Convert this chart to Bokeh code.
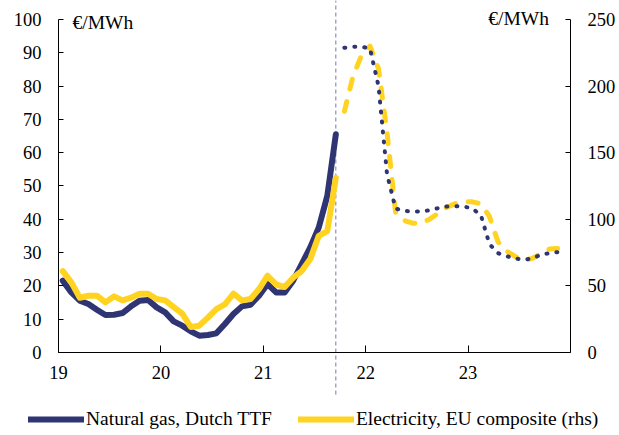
from bokeh.plotting import figure
from bokeh.models import Range1d, LinearAxis, FixedTicker, Legend, LegendItem, Label
from bokeh.embed import file_html
from bokeh.resources import INLINE

# month index 0 = Jan 2019 (plotted at mid-month)
hist_months = list(range(0, 33))   # Jan 2019 .. Sep 2021
gas_hist = [21.5, 18, 15.5, 14.5, 12.8, 11.2, 11.3, 11.8, 13.8, 15.5, 15.7, 13.5,
            12, 9.3, 8, 6.3, 5, 5.2, 5.7, 8.5, 11.5, 13.8, 14.3, 17,
            20.5, 18, 18, 21.5, 26.5, 31.5, 37.5, 47, 65.5]
elec_hist = [61, 52.5, 41, 42.5, 42.5, 37.5, 42, 39, 41, 44, 44, 40,
             39, 34, 29, 19, 20, 26, 32.5, 36, 44, 39, 40, 47.5,
             57.5, 51, 49, 56, 61, 70, 87.5, 91, 131]

fut_months = list(range(33, 59))   # Oct 2021 .. Nov 2023 (futures)
gas_fut = [91.5, 91.8, 91.8, 91.3, 80, 53.5, 43.2, 42.5, 42.3, 42.3, 42.7, 43.3,
           43.8, 43.9, 43.8, 43.2, 41.2, 32.5, 29.8, 28.9, 28.2, 27.8, 28.2, 29.3,
           29.8, 30.1]
elec_fut = [181, 207, 223, 230, 213, 165, 105, 99, 97, 97, 100, 104.5,
            109, 111.7, 113, 113, 111.5, 102, 83, 76, 72, 69, 70.5, 74,
            77.5, 78]

x_ticks = [19, 20, 21, 22, 23]
x_tick_labels = ["19", "20", "21", "22", "23"]
left_ticks = list(range(0, 101, 10))
right_ticks = list(range(0, 251, 50))

NAVY = "#2F3573"
YELLOW = "#FFD320"
FONT = "Liberation Serif"

X_START, X_END = 19, 24


def to_year(m):
    return 19 + (m + 0.5) / 12.0


xh = [to_year(m) for m in hist_months]
xf = [to_year(m) for m in fut_months]
vline_x = xh[-1]

p = figure(width=619, height=432, output_backend="svg", toolbar_location=None,
           x_range=Range1d(18.4336, 24.4785), y_range=Range1d(-24.1, 105.7),
           min_border_left=0, min_border_right=0, min_border_top=0,
           min_border_bottom=0)
p.extra_y_ranges = {"right": Range1d(-60.25, 264.25)}
p.grid.visible = False
p.outline_line_color = None
p.background_fill_color = "white"
p.border_fill_color = "white"

# x axis at y = 0
xa = p.xaxis[0]
xa.fixed_location = 0
xa.bounds = (X_START, X_END)
xa.ticker = FixedTicker(ticks=x_ticks)
xa.major_label_overrides = {t: l for t, l in zip(x_ticks, x_tick_labels)}
xa.major_tick_in = 7
xa.major_tick_out = 0
xa.major_label_standoff = 14

# left axis at x = 19
ya = p.yaxis[0]
ya.fixed_location = X_START
ya.bounds = (0, 100)
ya.ticker = FixedTicker(ticks=left_ticks)
ya.major_tick_in = 5
ya.major_tick_out = 0
ya.major_label_standoff = 17

# right axis at x = 24
ra = LinearAxis(y_range_name="right", bounds=(0, 250), fixed_location=X_END,
                ticker=FixedTicker(ticks=right_ticks))
ra.major_tick_in = 5
ra.major_tick_out = 0
ra.major_label_standoff = 17
p.add_layout(ra, "right")

for ax in (xa, ya, ra):
    ax.minor_tick_line_color = None
    ax.axis_line_color = "black"
    ax.major_tick_line_color = "black"
    ax.major_label_text_font = FONT
    ax.major_label_text_font_size = "18.5px"
    ax.major_label_text_color = "black"

# vertical dashed line at last actual observation
p.segment(x0=[vline_x], y0=[-12.7], x1=[vline_x], y1=[105.7],
          line_color="#7379A8", line_width=1, line_dash="4 3")

r_gas = p.line(xh, gas_hist, line_color=NAVY, line_width=6,
               line_join="round", line_cap="round")
r_el = p.line(xh, elec_hist, line_color=YELLOW, line_width=6,
              line_join="round", line_cap="round", y_range_name="right")
p.line(xf, elec_fut, line_color=YELLOW, line_width=5, line_dash="10 13",
       line_join="round", line_cap="round", y_range_name="right")
p.line(xf, gas_fut, line_color=NAVY, line_width=4, line_dash="1 9",
       line_join="round", line_cap="round")

p.add_layout(Label(x=19.137, y=99, text="€/MWh", text_baseline="middle",
                   text_font=FONT, text_font_size="19.5px", text_color="black"))
p.add_layout(Label(x=23.79, y=100.3, text="€/MWh", text_baseline="middle",
                   text_align="right", text_font=FONT, text_font_size="19.5px",
                   text_color="black"))

legend = Legend(items=[LegendItem(label="Natural gas, Dutch TTF", renderers=[r_gas]),
                       LegendItem(label="Electricity, EU composite (rhs)", renderers=[r_el])],
                orientation="horizontal", location=(28, 2),
                glyph_width=56, glyph_height=20, label_standoff=2, spacing=26,
                padding=0, margin=0, border_line_color=None,
                background_fill_alpha=0,
                label_text_font=FONT, label_text_font_size="19.5px",
                label_text_color="black")
p.add_layout(legend, "center")

open("out.html", "w").write(file_html(p, INLINE))
